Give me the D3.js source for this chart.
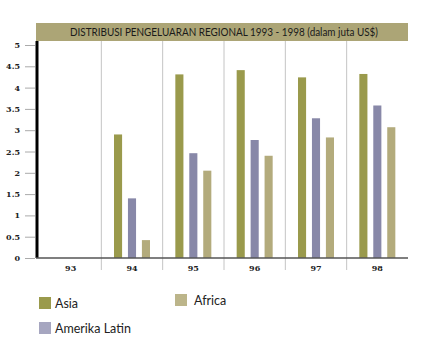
<!DOCTYPE html>
<html>
<head>
<meta charset="utf-8">
<script src="https://cdn.jsdelivr.net/npm/d3@7"></script>
<style>
  body { margin: 0; background: #fff; }
  svg { font-family: Lato, "Open Sans", sans-serif; }
</style>
</head>
<body>
<div id="chart"></div>
<script>
const years = ['93', '94', '95', '96', '97', '98'];
const seriesNames = ['Asia', 'Amerika Latin', 'Africa'];
const asia = [0, 2.9, 4.31, 4.41, 4.24, 4.32];
const amerikaLatin = [0, 1.4, 2.46, 2.77, 3.28, 3.58];
const africa = [0, 0.42, 2.05, 2.4, 2.83, 3.07];
const yTicks = [0, 0.5, 1, 1.5, 2, 2.5, 3, 3.5, 4, 4.5, 5];
const title = 'DISTRIBUSI PENGELUARAN REGIONAL 1993 - 1998 (dalam juta US$)';

const colors = ['#9a9a4c', '#8888a8', '#b3ab7c'];
const legendColors = ['#9a9a4c', '#a6a6c0', '#bcb58a'];

const width = 430, height = 361;
const margin = { left: 40, right: 22, top: 41, bottom: 103 };

const svg = d3.select('#chart').append('svg')
   .attr('width', width)
   .attr('height', height);

const x = d3.scaleBand()
   .domain(years)
   .range([margin.left, width - margin.right])
   .paddingInner(0).paddingOuter(0);

const y = d3.scaleLinear()
   .domain([0, 5])
   .range([height - margin.bottom, 45]);

const xSub = d3.scaleBand()
   .domain(seriesNames)
   .range([-18, 18])
   .paddingInner(0.42);

const data = years.map((yr, i) => ({ year: yr, values: [asia[i], amerikaLatin[i], africa[i]] }));

// title bar
svg.append('rect')
   .attr('x', 36).attr('y', 23)
   .attr('width', width - margin.right - 36).attr('height', 18)
   .attr('fill', '#aca576');
svg.append('text')
   .attr('x', 70)
   .attr('y', 36)
   .attr('font-size', 11.5)
   .attr('textLength', 308)
   .attr('lengthAdjust', 'spacingAndGlyphs')
   .attr('fill', '#1a1a1a')
   .text(title);

// category separators
svg.append('g').selectAll('line')
   .data(years.slice(1))
   .join('line')
   .attr('x1', d => x(d)).attr('x2', d => x(d))
   .attr('y1', 41).attr('y2', y(0) + 12)
   .attr('stroke', '#c4c4c4')
   .attr('stroke-width', 1);

// y axis ticks
const yAxis = d3.axisLeft(y)
   .tickValues(yTicks)
   .tickSize(10)
   .tickPadding(5)
   .tickFormat(d => d);
const yg = svg.append('g')
   .attr('transform', `translate(${margin.left - 5},0)`)
   .call(yAxis);
yg.select('.domain').remove();
yg.selectAll('.tick line').attr('stroke', '#aaa');
yg.selectAll('.tick text')
   .attr('font-size', 8)
   .attr('font-weight', 'bold')
   .attr('fill', '#222')
   .attr('font-family', '"DejaVu Serif", serif');

// bars
const groups = svg.append('g').selectAll('g')
   .data(data)
   .join('g')
   .attr('transform', d => `translate(${x(d.year) + x.bandwidth() / 2},0)`);

groups.selectAll('rect')
   .data(d => d.values.map((v, i) => ({ name: seriesNames[i], value: v, i })))
   .join('rect')
   .filter(d => d.value > 0)
   .attr('x', d => xSub(d.name))
   .attr('width', xSub.bandwidth())
   .attr('y', d => y(d.value))
   .attr('height', d => y(0) - y(d.value))
   .attr('fill', d => colors[d.i]);

// axis lines
svg.append('line')
   .attr('x1', 37).attr('x2', 37)
   .attr('y1', 41).attr('y2', y(0))
   .attr('stroke', '#000').attr('stroke-width', 3);
svg.append('line')
   .attr('x1', 36).attr('x2', width - margin.right)
   .attr('y1', y(0)).attr('y2', y(0))
   .attr('stroke', '#555').attr('stroke-width', 1.5);

// x labels
svg.append('g').selectAll('text')
   .data(years)
   .join('text')
   .attr('x', d => x(d) + x.bandwidth() / 2)
   .attr('y', y(0) + 13)
   .attr('text-anchor', 'middle')
   .attr('font-size', 8)
   .attr('font-weight', 'bold')
   .attr('fill', '#222')
   .attr('font-family', '"DejaVu Serif", serif')
   .text(d => d);

// legend
const legendPos = [[39, 297], [39, 322], [175, 294]];
const legend = svg.append('g').selectAll('g')
   .data(seriesNames)
   .join('g')
   .attr('transform', (d, i) => `translate(${legendPos[i][0]},${legendPos[i][1]})`);
legend.append('rect')
   .attr('width', 12).attr('height', 12)
   .attr('fill', (d, i) => legendColors[i]);
legend.append('text')
   .attr('x', (d, i) => i === 2 ? 19 : 16)
   .attr('y', 11)
   .attr('font-size', 12.5)
   .attr('fill', '#222')
   .text(d => d);
</script>
</body>
</html>
